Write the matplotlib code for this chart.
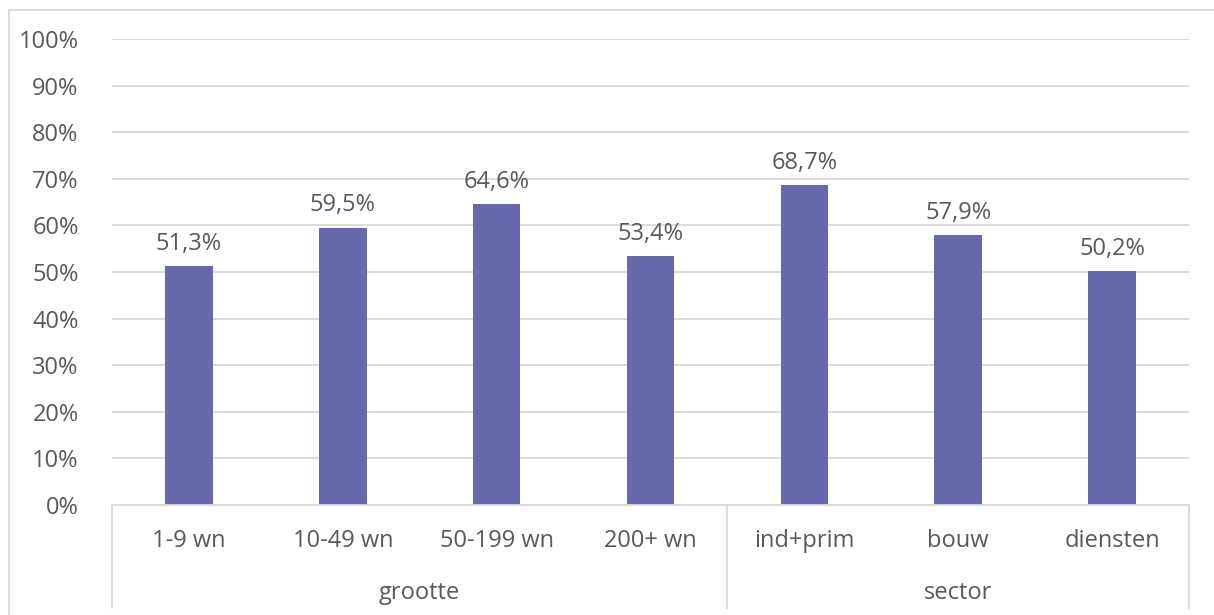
import matplotlib.pyplot as plt
from matplotlib.patches import Rectangle
from matplotlib.transforms import blended_transform_factory

# percentages per category, grouped by size and sector
categories = ["1-9 wn", "10-49 wn", "50-199 wn", "200+ wn", "ind+prim", "bouw", "diensten"]
values = [51.3, 59.5, 64.6, 53.4, 68.7, 57.9, 50.2]
groups = ["grootte", "sector"]
group_sizes = [4, 3]
yticks = list(range(0, 101, 10))

bar_color = "#6868AC"
text_color = "#595959"
grid_color = "#D9D9D9"

plt.rcParams["font.family"] = ["Open Sans", "DejaVu Sans"]
fs = 17

fig = plt.figure(figsize=(12.14, 6.15), dpi=100)
ax = fig.add_axes([112 / 1214, 1 - 505 / 615, 1077 / 1214, 466 / 615])

x = list(range(len(categories)))
ax.bar(x, values, width=0.31, color=bar_color, zorder=2)
for xi, v in zip(x, values):
    ax.text(xi, v + 2.2, f"{v:.1f}%".replace(".", ","), ha="center", va="bottom",
            fontsize=fs, color=text_color)

ax.set_xlim(-0.5, len(categories) - 0.5)
ax.set_ylim(0, 100)
ax.set_yticks(yticks)
ax.set_yticklabels([f"{t}%" for t in yticks], fontsize=fs, color=text_color)
ax.tick_params(axis="y", length=0, pad=24)
ax.set_xticks([])
ax.yaxis.grid(True, color=grid_color, linewidth=1.3, zorder=0)
for s in ax.spines.values():
    s.set_visible(False)

# two-level category axis drawn below the plot area
tr = blended_transform_factory(ax.transData, ax.transAxes)
ax.plot([-0.5, len(categories) - 0.5], [0, 0], color=grid_color, lw=1.3,
        transform=tr, clip_on=False)
for xi, lab in zip(x, categories):
    ax.text(xi, -0.077, lab, ha="center", va="center", fontsize=fs,
            color=text_color, transform=tr)

start = -0.5
edges = [start]
for name, n in zip(groups, group_sizes):
    mid = start + n / 2
    ax.text(mid, -0.188, name, ha="center", va="center", fontsize=fs,
            color=text_color, transform=tr)
    start += n
    edges.append(start)
for e in edges:
    ax.plot([e, e], [0, -0.221], color=grid_color, lw=1.3, transform=tr, clip_on=False)

# chart frame
fig.patches.append(Rectangle((8.5 / 1214, -0.1), 1.2, 1 - 9.5 / 615 + 0.1,
                             transform=fig.transFigure, fill=False,
                             edgecolor=grid_color, lw=1.3))

fig.savefig("out.png", dpi=100)
